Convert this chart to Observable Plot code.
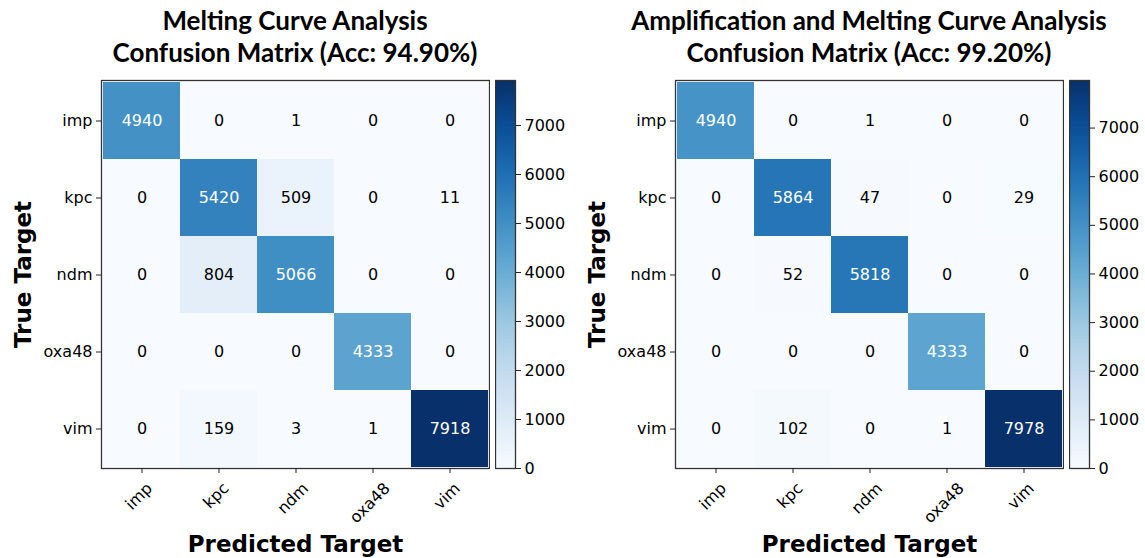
<!DOCTYPE html>
<html>
<head>
<meta charset="utf-8">
<script src="https://cdn.jsdelivr.net/npm/d3@7"></script>
<script src="https://cdn.jsdelivr.net/npm/@observablehq/plot@0.6"></script>
<style>
  body { margin: 0; background: #fff; }
  #root { position: relative; width: 1145px; height: 558px; background: #fff; overflow: hidden; }
  .abs { position: absolute; top: 0; }
  .title { position: absolute; text-align: center; font-family: Lato, sans-serif; font-weight: 700;
           font-size: 26px; line-height: 32px; color: #000; top: 4px; }
</style>
</head>
<body>
<div id="root"></div>
<script>
// Class labels shared by both matrices
const classes = ["imp", "kpc", "ndm", "oxa48", "vim"];

// Melting curve analysis: rows = true target, columns = predicted target
const meltingRows = [
  [4940, 0, 1, 0, 0],
  [0, 5420, 509, 0, 11],
  [0, 804, 5066, 0, 0],
  [0, 0, 0, 4333, 0],
  [0, 159, 3, 1, 7918]
];

// Amplification + melting curve analysis
const ampMeltRows = [
  [4940, 0, 1, 0, 0],
  [0, 5864, 47, 0, 29],
  [0, 52, 5818, 0, 0],
  [0, 0, 0, 4333, 0],
  [0, 102, 0, 1, 7978]
];

const colorbarTicks = [0, 1000, 2000, 3000, 4000, 5000, 6000, 7000];

const panels = [
  {title: ["Melting Curve Analysis", "Confusion Matrix (Acc: 94.90%)"], rows: meltingRows, left: 0},
  {title: ["Amplification and Melting Curve Analysis", "Confusion Matrix (Acc: 99.20%)"], rows: ampMeltRows, left: 574}
];

const root = document.getElementById("root");
const H = 558, top0 = 80, bottom0 = 90;
const FONT = "DejaVu Sans, sans-serif";
const tickFont = 16;

// Width of a tick label, used to drop each rotated label below its tick
const ctx = document.createElement("canvas").getContext("2d");
ctx.font = `${tickFont}px "DejaVu Sans"`;
const labelWidth = s => ctx.measureText(s).width;

for (const p of panels) {
  const cells = [];
  p.rows.forEach((row, i) => row.forEach((v, j) => cells.push({t: classes[i], p: classes[j], v})));
  const max = d3.max(cells, d => d.v);

  const matrix = Plot.plot({
    width: 490, height: H,
    marginLeft: 101, marginRight: 1, marginTop: top0, marginBottom: bottom0,
    style: {fontFamily: FONT, fontSize: tickFont + "px", color: "#000", background: "transparent"},
    x: {type: "band", domain: classes, padding: 0, label: null},
    y: {type: "band", domain: classes, padding: 0, label: null},
    color: {type: "linear", scheme: "blues", domain: [0, max]},
    marks: [
      Plot.cell(cells, {x: "p", y: "t", fill: "v"}),
      Plot.text(cells, {x: "p", y: "t", text: d => String(d.v), fontSize: 16,
        fill: d => d.v > max / 2 ? "white" : "black"}),
      Plot.frame({stroke: "#333", strokeWidth: 1.3}),
      Plot.axisX({tickSize: 5, stroke: "#222", tickFormat: () => "", label: null}),
      // rotated category labels under the x ticks
      Plot.text(classes, {x: d => d, frameAnchor: "bottom", rotate: -45, textAnchor: "middle", lineAnchor: "middle",
        fontSize: tickFont, fill: "#000", dx: -3, text: d => d}),
      Plot.axisY({tickSize: 5, tickPadding: 4, fontSize: tickFont, stroke: "#222", label: null}),
      Plot.text(["Predicted Target"], {frameAnchor: "bottom", lineAnchor: "middle", dy: 76, fontSize: 23, fontWeight: "bold", fill: "#000"}),
      Plot.text(["True Target"], {frameAnchor: "left", textAnchor: "middle", lineAnchor: "middle", dx: -78, rotate: -90, fontSize: 23, fontWeight: "bold", fill: "#000"})
    ]
  });
  // drop each rotated label below its tick by half its rotated height
  d3.select(matrix).selectAll("g[aria-label='text'] text").each(function() {
    const s = this.textContent;
    const tr = this.getAttribute("transform") || "";
    if (!classes.includes(s) || !tr.includes("rotate(-45)")) return;
    const m = /translate\(([-\d.e]+),\s*([-\d.e]+)\)/.exec(tr);
    if (!m) return;
    const yOff = 13 + (labelWidth(s) + 12) * 0.7071 / 2;
    this.setAttribute("transform", tr.replace(m[0], `translate(${m[1]},${(+m[2] + yOff).toFixed(2)})`));
  });
  matrix.classList.add("abs");
  matrix.style.left = p.left + "px";
  root.appendChild(matrix);

  // Colour bar for the same scale
  const bar = Plot.plot({
    width: 80, height: H,
    marginLeft: 0, marginRight: 60, marginTop: top0, marginBottom: bottom0,
    style: {fontFamily: FONT, fontSize: tickFont + "px", color: "#000", background: "transparent"},
    x: {domain: [0, 1], axis: null},
    y: {domain: [0, max], label: null},
    color: {type: "linear", scheme: "blues", domain: [0, max]},
    marks: [
      Plot.raster({x1: 0, x2: 1, y1: 0, y2: max, width: 1, height: 400, fill: (x, y) => y, interpolate: "none"}),
      Plot.frame({stroke: "#333", strokeWidth: 1.3}),
      Plot.axisY(colorbarTicks, {anchor: "right", tickSize: 5, tickPadding: 4, fontSize: tickFont, stroke: "#222", label: null, tickFormat: d => String(d)})
    ]
  });
  bar.classList.add("abs");
  bar.style.left = (p.left + 495) + "px";
  root.appendChild(bar);

  const t = document.createElement("div");
  t.className = "title";
  t.style.left = (p.left + 30) + "px";
  t.style.width = "530px";
  t.innerHTML = p.title.join("<br>");
  root.appendChild(t);
}
</script>
</body>
</html>
